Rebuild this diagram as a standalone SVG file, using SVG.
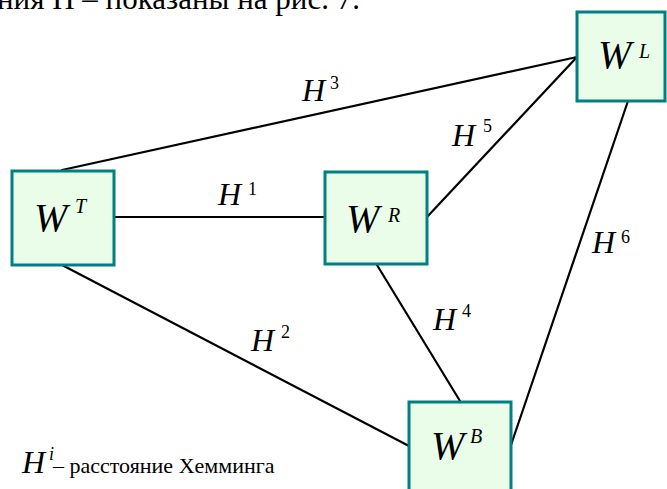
<svg xmlns="http://www.w3.org/2000/svg" width="667" height="489" viewBox="0 0 667 489">
<style>
.box{fill:#EAFDE8;stroke:#008080;stroke-width:3}
.edge{stroke:#000;stroke-width:2.2;fill:none;stroke-linecap:round}
.t{font-family:"Liberation Serif","Times New Roman",serif;fill:#000}
.w{font-style:italic;font-size:40px}
.ws{font-style:italic;font-size:20px}
.h{font-style:italic;font-size:32px}
.hs{font-size:18px}
</style>
<rect width="667" height="489" fill="#fff"/>
<text class="t" x="-3" y="9" font-size="31">ния H – показаны на рис. 7.</text>
<g id="connectors">
<line class="edge" x1="114" y1="217" x2="325" y2="217"/>
<line class="edge" x1="62" y1="170" x2="577" y2="57"/>
<line class="edge" x1="62" y1="265" x2="409" y2="446"/>
<line class="edge" x1="377" y1="265" x2="460" y2="401"/>
<line class="edge" x1="427" y1="217" x2="577" y2="57"/>
<line class="edge" x1="628" y1="101" x2="511" y2="445"/>
</g>
<g id="edge-labels">
<text class="t h" x="218" y="205">H</text><text class="t hs" x="248" y="195">1</text>
<text class="t h" x="251" y="351">H</text><text class="t hs" x="281" y="338">2</text>
<text class="t h" x="302" y="101">H</text><text class="t hs" x="330" y="89">3</text>
<text class="t h" x="433" y="330">H</text><text class="t hs" x="462" y="317">4</text>
<text class="t h" x="452" y="146">H</text><text class="t hs" x="483" y="132">5</text>
<text class="t h" x="592" y="253">H</text><text class="t hs" x="621" y="243">6</text>
</g>
<g id="node-WT">
<rect class="box" x="12" y="171" width="102" height="94"/>
<text class="t w" x="34" y="231">W</text><text class="t ws" x="75" y="213">T</text>
</g>
<g id="node-WR">
<rect class="box" x="325" y="172" width="102" height="92"/>
<text class="t w" x="346" y="232">W</text><text class="t ws" x="388" y="222">R</text>
</g>
<g id="node-WL">
<rect class="box" x="577" y="12" width="88" height="89"/>
<text class="t w" x="598" y="68">W</text><text class="t ws" x="639" y="58">L</text>
</g>
<g id="node-WB">
<rect class="box" x="409" y="402" width="102" height="94"/>
<text class="t w" x="431" y="459">W</text><text class="t ws" x="470" y="443">B</text>
</g>
<g id="legend">
<text class="t h" x="22" y="473">H</text><text class="t" x="49" y="460" font-size="18" font-style="italic">i</text>
<text class="t" x="53" y="473" font-size="22">– расстояние Хемминга</text>
</g>
</svg>
